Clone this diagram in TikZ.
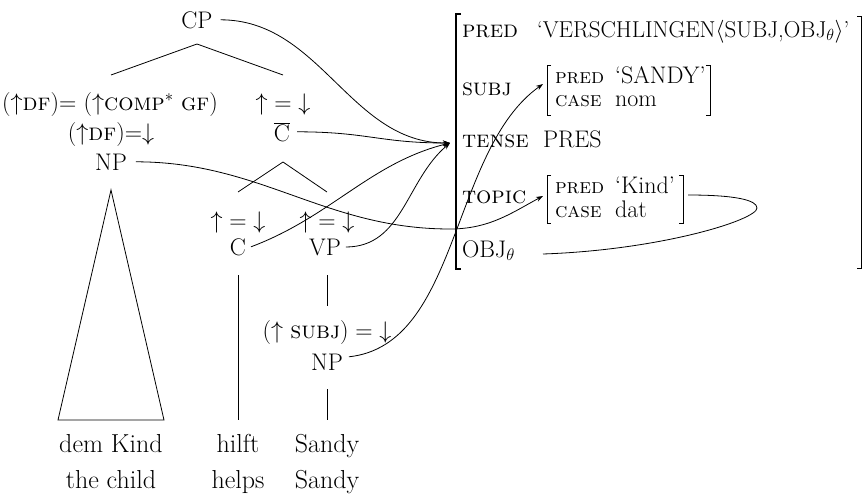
\RequirePackage{fix-cm}
\documentclass[tikz,border=0pt]{standalone}
\usepackage{fontspec}
\usetikzlibrary{arrows.meta}
\begin{document}
\begin{tikzpicture}[x=1pt,y=-1pt,
  every node/.style={inner sep=0pt,outer sep=0pt,font=\fontsize{24}{28}\selectfont},
  lab/.style={anchor=base},
  word/.style={anchor=base,font=\fontsize{26}{30}\selectfont},
  avm/.style={anchor=base west},
  subfeat/.style={anchor=base west,font=\fontsize{21}{24}\selectfont},
  subval/.style={anchor=base west},
  tree/.style={line width=0.8pt},
  brk/.style={line width=1.3pt},
  arr/.style={line width=0.8pt,-{Stealth[length=7pt,width=5pt]}},
  link/.style={line width=0.8pt}]
\useasboundingbox (0,0) rectangle (863,498);
% tree nodes
\node[lab] (cp) at (197,28) {CP};
\node[lab] (df1) at (110,110) {$(\uparrow$\textsc{df}$)$= $(\uparrow$\textsc{comp}$^*$ \textsc{gf}$)$};
\node[lab] (df2) at (111,140) {$(\uparrow$\textsc{df}$)$=$\downarrow$};
\node[lab] (np1) at (111,170) {NP};
\node[lab] (eq1) at (283,110) {$\mathord{\uparrow} = \mathord{\downarrow}$};
\node[lab] (cbar) at (282,141) {$\overline{\mbox{C}}$};
\node[lab] (eq2) at (238,228) {$\mathord{\uparrow} = \mathord{\downarrow}$};
\node[lab] (eq3) at (327,228) {$\mathord{\uparrow} = \mathord{\downarrow}$};
\node[lab] (c) at (238,255) {C};
\node[lab] (vp) at (325,255) {VP};
\node[lab] (subjeq) at (327,338) {$(\mathord{\uparrow}$ \textsc{subj}$) = \mathord{\downarrow}$};
\node[lab] (np2) at (327,370) {NP};
\node[word] (w1) at (111,452) {dem Kind};
\node[word] (g1) at (111,488) {the child};
\node[word] (w2) at (238,452) {hilft};
\node[word] (g2) at (238,488) {helps};
\node[word] (w3) at (327,452) {Sandy};
\node[word] (g3) at (327,488) {Sandy};
% branch coordinates
\coordinate (cpa) at (197,44);
\coordinate (cpl) at (111,75);
\coordinate (cpr) at (283,75);
\coordinate (cba) at (283,162);
\coordinate (cbl) at (238,192);
\coordinate (cbr) at (327,192);
\coordinate (tra) at (111,190);
\coordinate (trl) at (58,420);
\coordinate (trr) at (164,420);
\coordinate (ct) at (238,275);
\coordinate (cb) at (238,420);
\coordinate (vt) at (327,275);
\coordinate (vb) at (327,306);
\coordinate (nt) at (327,389);
\coordinate (nb) at (327,420);
\draw[tree] (cpl) -- (cpa) -- (cpr);
\draw[tree] (cbl) -- (cba) -- (cbr);
\draw[tree] (tra) -- (trl) -- (trr) -- cycle;
\draw[tree] (ct) -- (cb);
\draw[tree] (vt) -- (vb);
\draw[tree] (nt) -- (nb);
% AVM
\node[avm] (fpred) at (462,37) {\textsc{pred}};
\node[avm,font=\fontsize{23}{27}\selectfont] (fpredv) at (537,37) {‘VERSCHLINGEN$\langle$SUBJ,OBJ$_\theta\rangle$’};
\node[avm] (fsubj) at (462,95) {\textsc{subj}};
\node[subfeat] (spred) at (555,83) {\textsc{pred}};
\node[subval] (spredv) at (615,83) {‘SANDY’};
\node[subfeat] (scase) at (555,106) {\textsc{case}};
\node[subval] (scasev) at (615,106) {nom};
\node[avm] (ftense) at (462,147) {\textsc{tense}};
\node[avm] (ftensev) at (543,147) {PRES};
\node[avm] (ftopic) at (462,203) {\textsc{topic}};
\node[subfeat] (tpred) at (555,193) {\textsc{pred}};
\node[subval] (tpredv) at (615,193) {‘Kind’};
\node[subfeat] (tcase) at (555,217) {\textsc{case}};
\node[subval] (tcasev) at (615,217) {dat};
\node[avm] (fobj) at (462,257) {OBJ$_\theta$};
% brackets
\draw[brk] (461,14) -- (456,14) -- (456,269) -- (461,269);
\draw[line width=0.6pt] (857,16) -- (861.5,16) -- (861.5,268) -- (857,268);
\draw[line width=1pt] (551,65) -- (547,65) -- (547,115) -- (551,115);
\draw[line width=1pt] (706,65) -- (710,65) -- (710,115) -- (706,115);
\draw[line width=1pt] (551,175) -- (547,175) -- (547,223) -- (551,223);
\draw[line width=1pt] (679,175) -- (683,175) -- (683,223) -- (679,223);
% connectors
\coordinate (fs) at (450,143);
\coordinate (subtip) at (543,84);
\coordinate (toptip) at (543,196);
\coordinate (lowpt) at (450,229);
\coordinate (topr) at (688,195);
\coordinate (loopr) at (757,208);
\coordinate (objr) at (543,254);
\draw[arr] ([shift={(8,0)}]cp.east) .. controls +(100,0) and +(-100,0) .. (fs);
\draw[arr] ([shift={(7,0)}]cbar.east) .. controls +(70,0) and +(-70,0) .. (fs);
\draw[arr] ([shift={(5,0)}]c.east) .. controls +(80,-30) and +(-80,20) .. (fs);
\draw[arr] ([shift={(5,0)}]vp.east) .. controls +(57,0) and +(-44,37) .. (fs);
\draw[arr] ([shift={(6,-5)}]np2.east) .. controls (460,345) and (450,150) .. (subtip);
\draw[arr] ([shift={(9,0)}]np1.east) .. controls +(125,0) and +(-125,0) .. (lowpt) .. controls +(40,0) and +(-30,16) .. (toptip);
\draw[link] (topr) .. controls (735,195) and (757,200) .. (loopr) .. controls (757,220) and (660,250) .. (objr);
\end{tikzpicture}
\end{document}
